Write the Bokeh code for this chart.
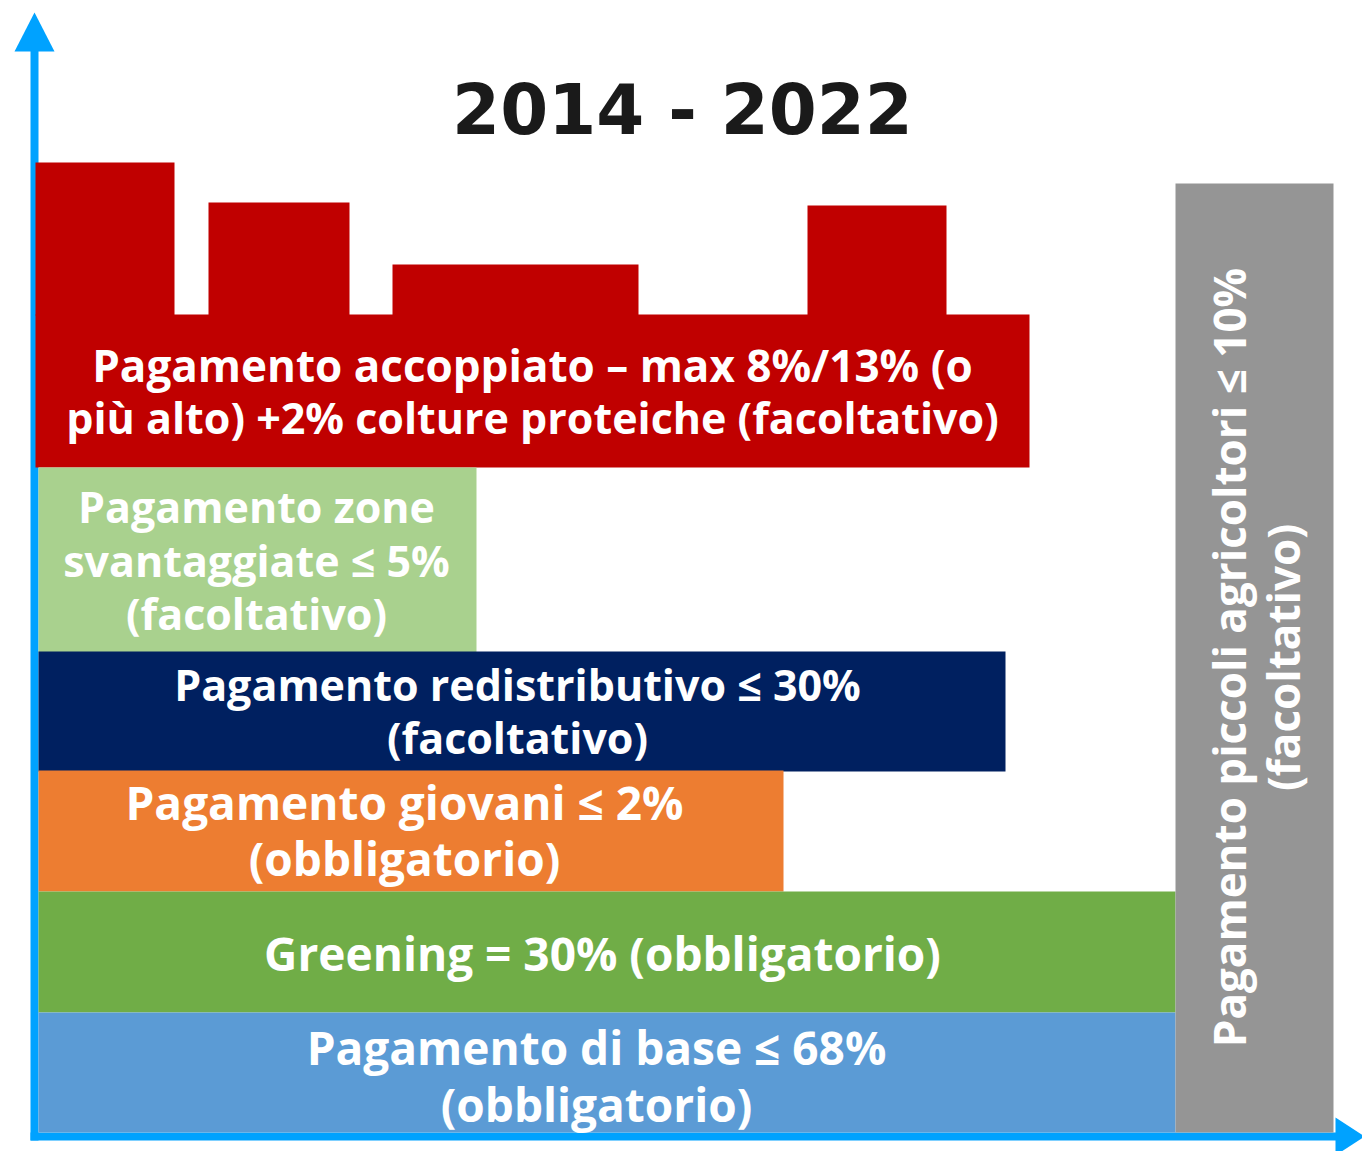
from bokeh.plotting import figure
from bokeh.models import Range1d, ColumnDataSource
from bokeh.core.properties import value
from bokeh.embed import file_html
from bokeh.resources import INLINE
import math

W, H = 1362, 1151
def Y(py):
    return H - py

# Blocks (image pixel extents): left, right, top, bottom
block_names = ["red_base", "red1", "red2", "red3", "red4", "zone", "redistr", "giovani", "greening", "base", "piccoli"]
block_left = [35, 35, 208, 392, 807, 38, 38, 38, 38, 38, 1175]
block_right = [1029, 174, 349, 638, 946, 476, 1005, 783, 1175, 1175, 1333]
block_top = [314, 162, 202, 264, 205, 467, 651, 770, 891, 1012, 183]
block_bottom = [467, 315, 315, 315, 315, 652, 771, 891, 1012, 1132, 1132]
block_colors = ["#C00000", "#C00000", "#C00000", "#C00000", "#C00000", "#A9D18E",
                "#002060", "#ED7D31", "#70AD47", "#5B9BD5", "#959595"]

# Labels
label_lines = [
    "Pagamento accoppiato – max 8%/13% (o", "più alto) +2% colture proteiche (facoltativo)",
    "Pagamento zone", "svantaggiate ≤ 5%", "(facoltativo)",
    "Pagamento redistributivo ≤ 30%", "(facoltativo)",
    "Pagamento giovani ≤ 2%", "(obbligatorio)",
    "Greening = 30% (obbligatorio)",
    "Pagamento di base ≤ 68%", "(obbligatorio)",
]
label_x = [532, 532, 256, 256, 256, 517, 517, 404, 404, 602, 596, 596]
label_y = [364, 417, 506, 560, 613, 684, 737, 801, 857, 952, 1046, 1103]
label_size = ["44px", "43px", "43px", "43px", "43px", "43px", "43px", "46px", "46px", "46px", "46px", "46px"]

rot_lines = ["Pagamento piccoli agricoltori ≤ 10%", "(facoltativo)"]
rot_x = [1228, 1282]
rot_y = [657, 657]

title = "2014 - 2022"

p = figure(width=W, height=H, output_backend="svg", toolbar_location=None,
           x_range=Range1d(0, W), y_range=Range1d(0, H),
           min_border=0, background_fill_color="white", border_fill_color="white")
p.axis.visible = False
p.grid.visible = False
p.outline_line_color = None

# axes arrows (drawn first; red blocks overlap the vertical axis slightly)
AX = "#00A2FF"
p.quad(left=[30], right=[38], top=[Y(50)], bottom=[Y(1140)], fill_color=AX, line_color=None)
p.patch([14, 54, 34], [Y(51), Y(51), Y(12)], fill_color=AX, line_color=None)
p.quad(left=[30], right=[1336], top=[Y(1132)], bottom=[Y(1140)], fill_color=AX, line_color=None)
p.patch([1335, 1335, 1364], [Y(1117), Y(1155), Y(1136)], fill_color=AX, line_color=None)

src = ColumnDataSource(dict(
    left=block_left, right=block_right,
    top=[Y(v) for v in block_top], bottom=[Y(v) for v in block_bottom],
    color=block_colors))
p.quad(left="left", right="right", top="top", bottom="bottom", fill_color="color",
       line_color=None, source=src)

FONT = value("Open Sans")
lsrc = ColumnDataSource(dict(x=label_x, y=[Y(v) for v in label_y], t=label_lines, s=label_size))
p.text(x="x", y="y", text="t", text_font_size="s", text_font=FONT, text_font_style="bold",
       text_color="white", text_align="center", text_baseline="middle", source=lsrc)

rsrc = ColumnDataSource(dict(x=rot_x, y=[Y(v) for v in rot_y], t=rot_lines))
p.text(x="x", y="y", text="t", text_font_size="44px", text_font=FONT, text_font_style="bold",
       text_color="white", text_align="center", text_baseline="middle", angle=math.pi / 2,
       source=rsrc)

p.text(x=[682], y=[Y(109)], text=[title], text_font_size="69px", text_font=value("DejaVu Sans"),
       text_font_style="bold", text_color="#1A1A1A", text_align="center", text_baseline="middle")

open("out.html", "w").write(file_html(p, INLINE))
